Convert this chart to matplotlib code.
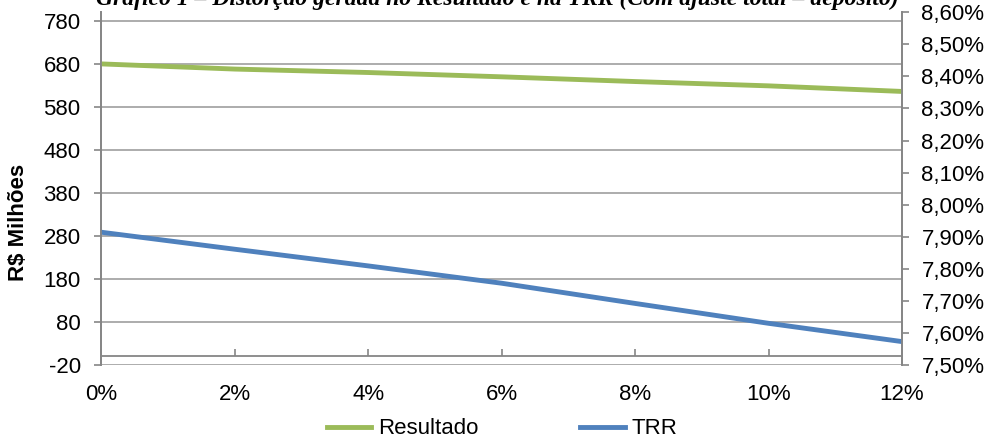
import matplotlib
matplotlib.use("Agg")
import matplotlib.pyplot as plt
from matplotlib.ticker import FuncFormatter, FixedLocator
import numpy as np

x_pct = [0, 2, 4, 6, 8, 10, 12]
resultado = [680, 668, 660, 650, 639, 629, 616]          # R$ Milhões (left axis)
trr = [7.914, 7.861, 7.809, 7.755, 7.692, 7.630, 7.573]   # % (right axis)
left_ticks = [-20, 80, 180, 280, 380, 480, 580, 680, 780]
right_ticks = [7.5, 7.6, 7.7, 7.8, 7.9, 8.0, 8.1, 8.2, 8.3, 8.4, 8.5, 8.6]
x_ticks = [0, 2, 4, 6, 8, 10, 12]
title = "Gráfico 1 – Distorção gerada no Resultado e na TRR (Com ajuste total – depósito)"

plt.rcParams['font.family'] = ['Liberation Sans', 'DejaVu Sans']
FS = 16
GRID = '#a6a6a6'
SPINE = '#868686'
GREEN = '#9BBB59'
BLUE = '#4F81BD'

fig = plt.figure(figsize=(9.87, 4.41), dpi=100)
L, R = 101.5 / 987, 902 / 987
B, T = 1 - 365 / 441, 1 - 12.3 / 441
ax = fig.add_axes([L, B, R - L, T - B])
ax2 = ax.twinx()

ax.set_xlim(0, 12)
ax.set_ylim(-20, 800)
ax2.set_ylim(7.5, 8.6)

ax.yaxis.set_major_locator(FixedLocator(left_ticks))
ax.set_yticklabels([str(v) for v in left_ticks])
ax2.yaxis.set_major_locator(FixedLocator(right_ticks))
ax2.yaxis.set_major_formatter(FuncFormatter(lambda v, _: f"{v:.2f}%".replace('.', ',')))
ax.xaxis.set_major_locator(FixedLocator(x_ticks))
ax.xaxis.set_major_formatter(FuncFormatter(lambda v, _: f"{int(round(v))}%"))

ax.grid(axis='y', color=GRID, lw=1.3)
ax.set_axisbelow(True)

for a in (ax, ax2):
    a.spines['top'].set_visible(False)
    a.spines['left'].set_color(SPINE)
    a.spines['right'].set_color(SPINE)
    a.spines['left'].set_linewidth(1.3)
    a.spines['right'].set_linewidth(1.3)
ax2.spines['bottom'].set_visible(False)
ax.spines['bottom'].set_position(('data', 0))
ax.spines['bottom'].set_color(SPINE)
ax.spines['bottom'].set_linewidth(1.3)

ax.tick_params(axis='y', direction='out', length=5, width=1.2, color=SPINE,
               labelsize=FS, pad=10)
ax2.tick_params(axis='y', direction='out', length=5, width=1.2, color=SPINE,
                labelsize=FS, pad=9)
ax.tick_params(axis='x', direction='in', length=5, width=1.2, color=SPINE,
               labelsize=FS, pad=20)

l1, = ax.plot(x_pct, resultado, color=GREEN, lw=3.5, label='Resultado',
              solid_joinstyle='round', zorder=3)
l2, = ax2.plot(x_pct, trr, color=BLUE, lw=3.5, label='TRR',
               solid_joinstyle='round', zorder=3)
for s in ax2.spines.values():
    s.set_zorder(4)

fig.text(19 / 987, 1 - 222 / 441, 'R$ Milhões', rotation=90, ha='center',
         va='center', fontsize=FS, fontweight='bold')

fig.legend([l1, l2], ['Resultado', 'TRR'], loc='center',
           bbox_to_anchor=(502 / 987, 1 - 429 / 441), ncol=2, frameon=False,
           fontsize=FS, handlelength=2.0, handletextpad=0.3, columnspacing=4.6,
           borderpad=0, borderaxespad=0)

fig.text(497 / 987, 1 - 5 / 441, title, ha='center', va='baseline',
         fontsize=17, fontweight='bold', fontstyle='italic',
         family=['Liberation Serif', 'DejaVu Serif'])

fig.savefig('out.png', dpi=100)
